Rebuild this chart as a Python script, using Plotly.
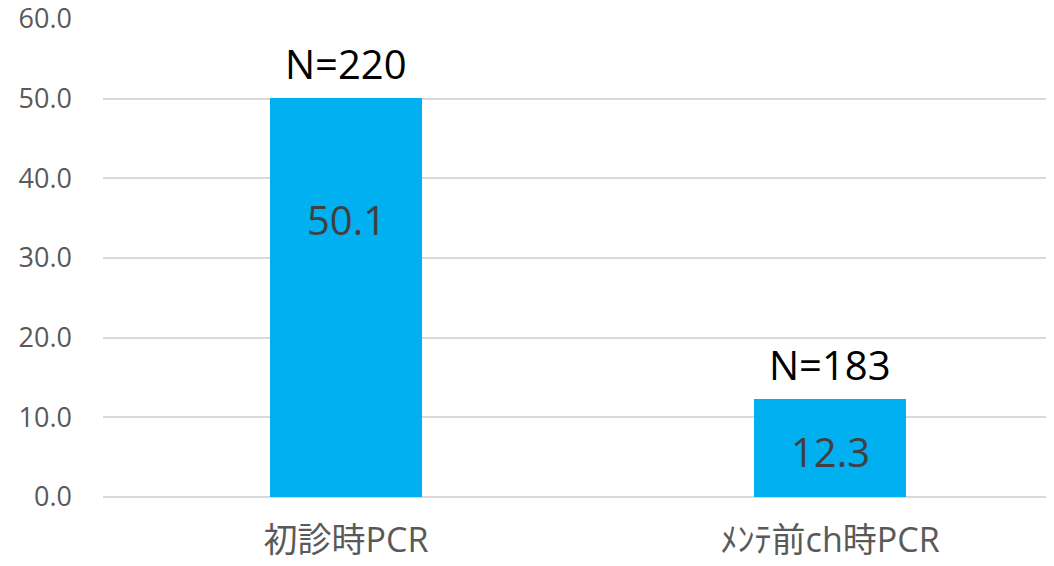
import plotly.graph_objects as go

# data
categories = ["初診時PCR", "ﾒﾝﾃ前ch時PCR"]
values = [50.1, 12.3]
n_labels = ["N=220", "N=183"]
y_ticks = [0, 10, 20, 30, 40, 50, 60]

FONT = "Open Sans, Noto Sans CJK JP, sans-serif"
BAR_COLOR = "#00B0F0"

fig = go.Figure()

fig.add_trace(go.Bar(
    x=categories,
    y=values,
    width=0.3125,
    marker_color=BAR_COLOR,
    marker_line_width=0,
    showlegend=False,
    hoverinfo="skip",
))

# value labels inside bars (first one sits higher than centre, as in source)
label_frac = [0.695, 0.46]
for cat, v, f in zip(categories, values, label_frac):
    fig.add_annotation(
        x=cat, y=v * f, text=f"{v:.1f}", showarrow=False,
        font=dict(family=FONT, size=40, color="#404040"),
    )

# N= labels above bars
for cat, v, n in zip(categories, values, n_labels):
    fig.add_annotation(
        x=cat, y=v, text=n, showarrow=False, yanchor="bottom", yshift=5,
        font=dict(family=FONT, size=40, color="#000000"),
    )

# page body adds ~8px offset, so margins are trimmed on the left/top
fig.update_layout(
    width=1054,
    height=566,
    margin=dict(l=95, r=0, t=11, b=77),
    plot_bgcolor="white",
    paper_bgcolor="white",
    bargap=0,
    xaxis=dict(
        range=[-0.502, 1.479],
        automargin=False,
        showgrid=False,
        showline=False,
        zeroline=False,
        ticks="",
        tickfont=dict(family=FONT, size=34, color="#595959"),
        ticklabelstandoff=20,
    ),
    yaxis=dict(
        range=[0, 60],
        automargin=False,
        tickvals=y_ticks,
        tickformat=".1f",
        ticklabeloverflow="allow",
        showgrid=True,
        gridcolor="#D9D9D9",
        gridwidth=1.5,
        zeroline=True,
        zerolinecolor="#D9D9D9",
        zerolinewidth=1.5,
        showline=False,
        ticks="",
        tickfont=dict(family=FONT, size=27, color="#595959"),
        ticklabelstandoff=30,
    ),
)

fig.write_html("out.html")
